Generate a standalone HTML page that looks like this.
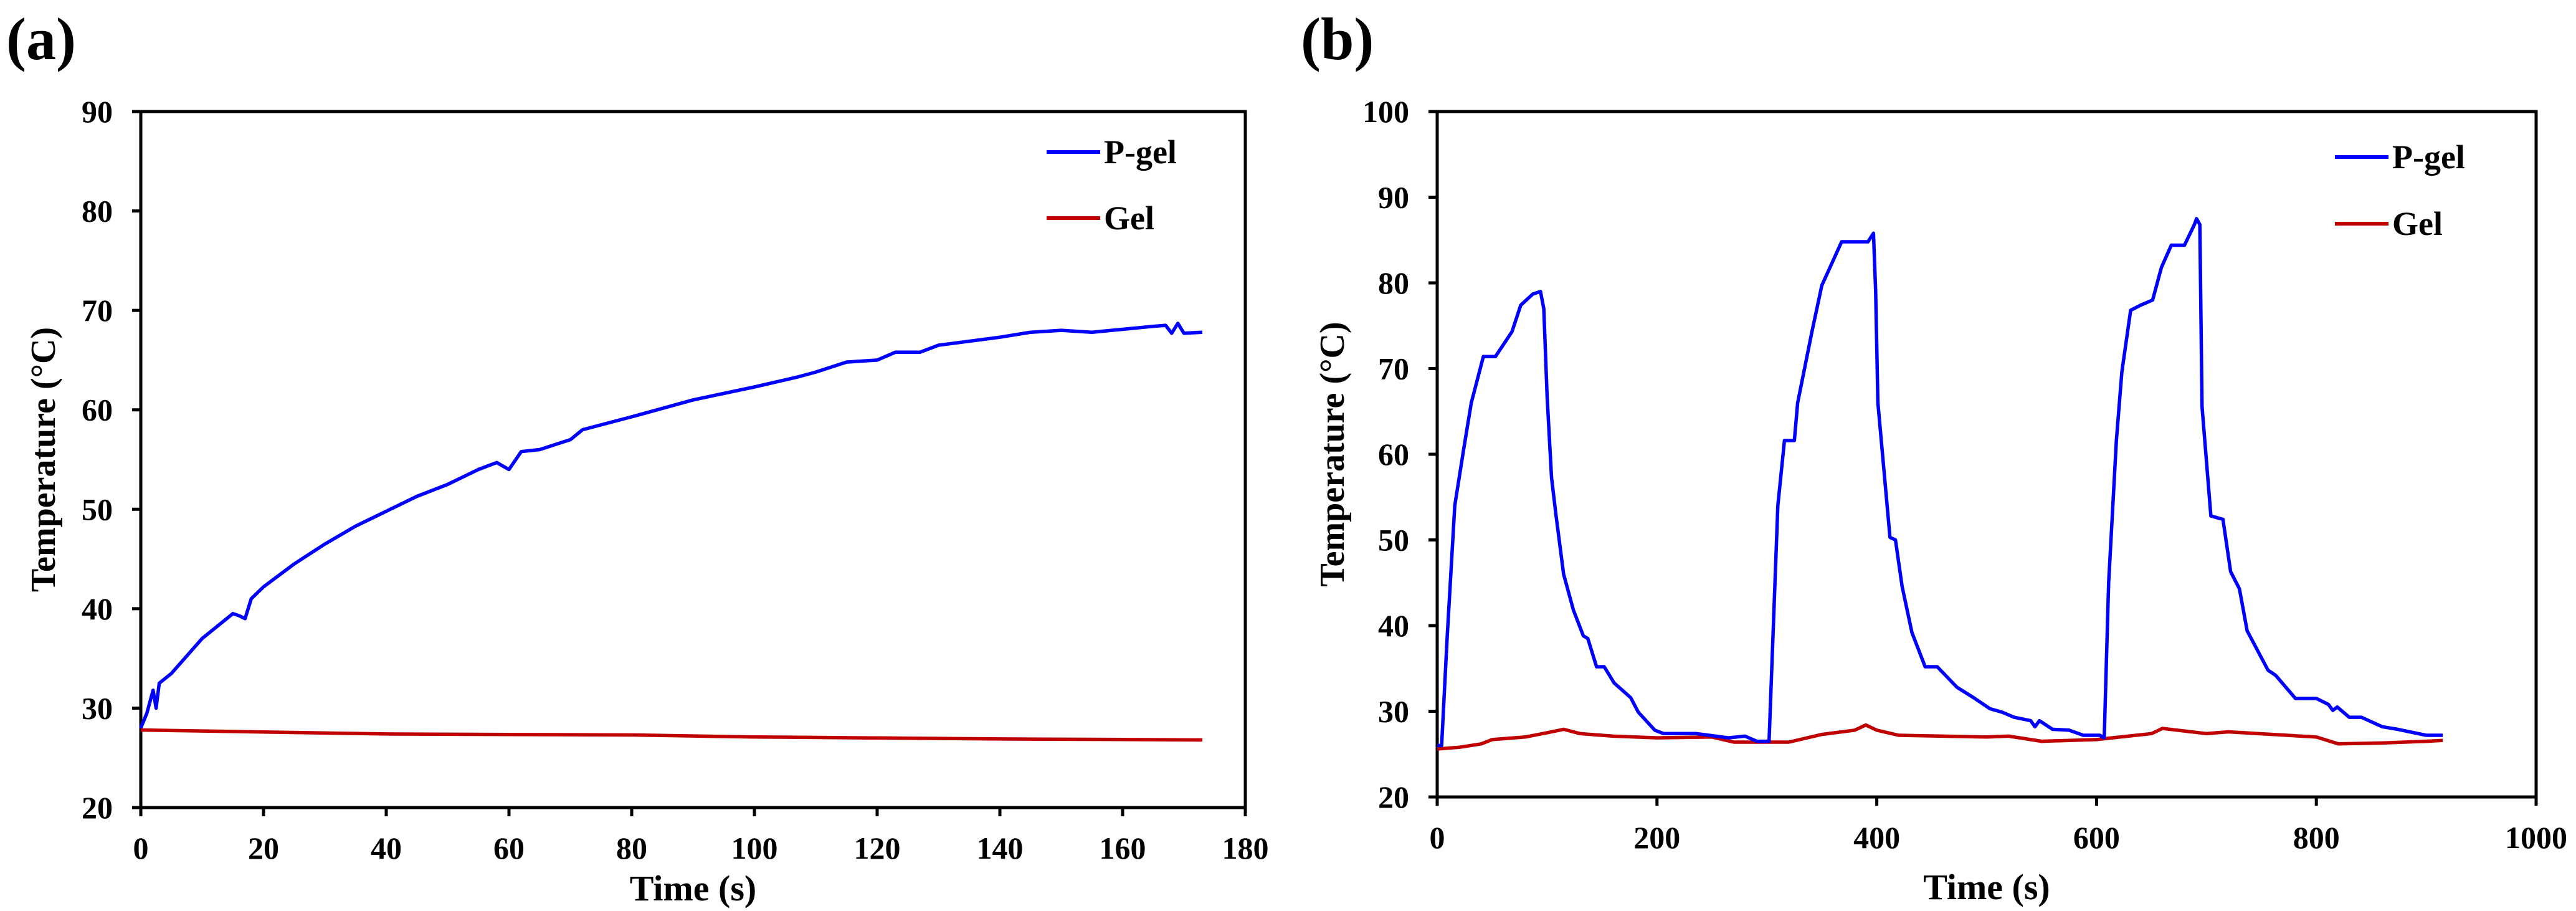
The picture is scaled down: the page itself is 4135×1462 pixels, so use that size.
<!DOCTYPE html>
<html><head><meta charset="utf-8">
<style>
html,body{margin:0;padding:0;background:#fff;}
svg{display:block;}
text{font-family:"Liberation Serif",serif;font-weight:bold;fill:#000;}
</style></head>
<body>
<svg id="fig" width="4135" height="1462" viewBox="0 0 4135 1462"></svg>
<script>
// Panel (a) data
const aTicksX = [0,20,40,60,80,100,120,140,160,180];
const aTicksY = [20,30,40,50,60,70,80,90];
const aPgelT = [0,1,2,2.5,3,5,10,15,16,17,18,20,25,30,35,40,45,50,55,58,60,62,65,70,72,80,90,100,107,110,115,120,123,127,130,140,145,150,155,160,165,167,168,169,170,173];
const aPgelV = [28,29.5,31.8,30,32.5,33.5,37,39.5,39.3,39,41,42.2,44.5,46.5,48.3,49.8,51.3,52.5,54,54.7,54,55.8,56,57,58,59.3,61,62.3,63.3,63.8,64.8,65,65.8,65.8,66.5,67.3,67.8,68,67.8,68.1,68.4,68.5,67.7,68.7,67.7,67.8];
const aGelT = [0,20,40,60,80,100,120,140,160,173];
const aGelV = [27.8,27.6,27.4,27.35,27.3,27.1,27.0,26.9,26.85,26.8];
// Panel (b) data
const bTicksX = [0,200,400,600,800,1000];
const bTicksY = [20,30,40,50,60,70,80,90,100];
const bPgelT = [0,4,9,16,24,31,42,53,68,76,87,94,97,100,104,108,115,124,133,137,145,152,161,176,183,198,206,236,265,280,291,302,310,316,325,328,341,350,368,392,397,399,401,412,417,423,432,444,455,473,488,503,514,525,540,544,548,560,575,588,603,607,611,618,623,631,640,651,659,668,680,689,691,694,696,704,715,722,730,737,756,763,781,800,811,815,819,830,841,860,874,900,915];
const bPgelV = [26,26,38.5,54,60.5,66,71.4,71.4,74.3,77.4,78.7,79,77,66.8,57.3,53,46,41.8,38.8,38.5,35.2,35.2,33.3,31.6,29.9,27.8,27.4,27.4,26.9,27.1,26.5,26.5,54,61.6,61.6,66,74.3,79.7,84.8,84.8,85.8,79,66,50.3,50,44.6,39.2,35.2,35.2,32.8,31.6,30.3,29.9,29.3,28.9,28.2,28.9,27.9,27.8,27.2,27.2,26.9,45,61.6,69.6,76.8,77.4,78,81.8,84.4,84.4,86.8,87.5,86.8,65.6,52.8,52.4,46.3,44.3,39.4,34.8,34.2,31.5,31.5,30.8,30.1,30.5,29.3,29.3,28.2,27.9,27.2,27.2];
const bGelT = [0,20,40,50,80,100,115,130,160,200,250,270,300,320,350,380,390,400,420,500,520,550,600,650,660,700,720,760,800,820,860,900,915];
const bGelV = [25.6,25.8,26.2,26.7,27.0,27.5,27.9,27.4,27.1,26.9,27.0,26.4,26.4,26.4,27.3,27.8,28.4,27.8,27.2,27.0,27.1,26.5,26.7,27.4,28.0,27.4,27.6,27.3,27.0,26.2,26.3,26.5,26.6];

const NS = "http://www.w3.org/2000/svg";
const svg = document.getElementById('fig');
function mk(tag, attrs, parent){
  const e = document.createElementNS(NS, tag);
  for (const k in attrs) e.setAttribute(k, attrs[k]);
  (parent||svg).appendChild(e);
  return e;
}
function panel(cfg){
  const g = mk('g', {});
  
  
  const sx = v => cfg.L + (v - cfg.x0)/(cfg.x1 - cfg.x0)*(cfg.R - cfg.L);
  const sy = v => cfg.B - (v - cfg.y0)/(cfg.y1 - cfg.y0)*(cfg.B - cfg.T);
  const frame = mk('rect', {x:cfg.L, y:cfg.T, width:cfg.R-cfg.L, height:cfg.B-cfg.T, fill:'none', stroke:'#000', 'stroke-width':5}, g);
  
  
  cfg.ty.forEach(v => {
    const y = sy(v);
    mk('line', {x1:cfg.L-14, x2:cfg.L, y1:y, y2:y, stroke:'#000','stroke-width':5}, g);
    const t = mk('text', {x:cfg.L-45, y:y+17, 'text-anchor':'end', 'font-size':50}, g);
    t.textContent = v;
    
    
  });
  cfg.tx.forEach(v => {
    const x = sx(v);
    mk('line', {x1:x, x2:x, y1:cfg.B, y2:cfg.B+14, stroke:'#000','stroke-width':5}, g);
    const t = mk('text', {x:x, y:cfg.B+82, 'text-anchor':'middle', 'font-size':50}, g);
    t.textContent = v;
    
    
  });
  function series(T, V, color, name){
    const d = T.map((t,i) => (i?'L':'M') + sx(t).toFixed(1) + ' ' + sy(V[i]).toFixed(1)).join(' ');
    const p = mk('path', {d:d, fill:'none', stroke:color, 'stroke-width':5.5, 'stroke-linejoin':'round'}, g);
    
    
  }
  series(cfg.gT, cfg.gV, '#c00000', 'gel-line');
  series(cfg.pT, cfg.pV, '#0000ff', 'p-gel-line');
  // legend
  const l1 = mk('line', {x1:cfg.lx, x2:cfg.lx+86, y1:cfg.ly1, y2:cfg.ly1, stroke:'#0000ff','stroke-width':6}, g);
  
  
  const lt1 = mk('text', {x:cfg.lx+92, y:cfg.ly1+18, 'font-size':54}, g);
  lt1.textContent = 'P-gel';
  
  
  const l2 = mk('line', {x1:cfg.lx, x2:cfg.lx+86, y1:cfg.ly2, y2:cfg.ly2, stroke:'#c00000','stroke-width':6}, g);
  
  
  const lt2 = mk('text', {x:cfg.lx+92, y:cfg.ly2+18, 'font-size':54}, g);
  lt2.textContent = 'Gel';
  
  
  // axis titles
  const xt = mk('text', {x:(cfg.L+cfg.R)/2, y:cfg.xty, 'text-anchor':'middle', 'font-size':58}, g);
  xt.textContent = 'Time (s)';
  
  
  const yt = mk('text', {x:0, y:0, 'text-anchor':'middle', 'font-size':56, transform:'translate('+(cfg.ytx)+','+((cfg.T+cfg.B)/2)+') rotate(-90)'}, g);
  yt.textContent = 'Temperature (°C)';
  
  
  const pl = mk('text', {x:cfg.plx, y:95, 'font-size':96}, g);
  pl.textContent = cfg.label;
  
  
}
panel({name:'panel-a', L:226, R:1999, T:179, B:1296, x0:0, x1:180, y0:20, y1:90,
  tx:aTicksX, ty:aTicksY, pT:aPgelT, pV:aPgelV, gT:aGelT, gV:aGelV,
  lx:1680, ly1:244, ly2:350, xty:1445, ytx:88, plx:10, label:'(a)'});
panel({name:'panel-b', L:2307, R:4071, T:179, B:1279, x0:0, x1:1000, y0:20, y1:100,
  tx:bTicksX, ty:bTicksY, pT:bPgelT, pV:bPgelV, gT:bGelT, gV:bGelV,
  lx:3748, ly1:252, ly2:359, xty:1443, ytx:2157, plx:2088, label:'(b)'});
</script>
</body></html>
